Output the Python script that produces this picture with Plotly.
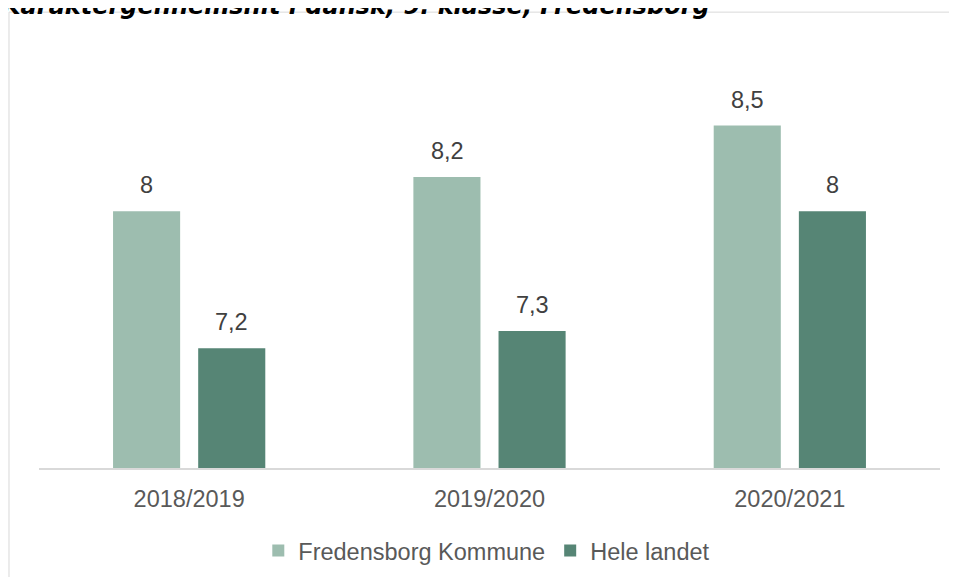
import plotly.graph_objects as go

categories = ["2018/2019", "2019/2020", "2020/2021"]
fredensborg = [8, 8.2, 8.5]
hele_landet = [7.2, 7.3, 8]
series_names = ["Fredensborg Kommune", "Hele landet"]
title_text = "Karaktergennemsnit i dansk, 9. klasse, Fredensborg"

c_light = "#9DBDAF"
c_dark = "#568575"
FONT = "Liberation Sans, Arial"

def fmt(v):
    return (f"{v:g}").replace(".", ",")

fig = go.Figure()
fig.add_trace(go.Bar(x=categories, y=fredensborg, name=series_names[0],
                     marker=dict(color=c_light, line=dict(width=0))))
fig.add_trace(go.Bar(x=categories, y=hele_landet, name=series_names[1],
                     marker=dict(color=c_dark, line=dict(width=0))))

annotations = []
for vals, xs in ((fredensborg, -42.5), (hele_landet, 42.5)):
    for cat, v in zip(categories, vals):
        annotations.append(dict(x=cat, y=v, xref="x", yref="y", text=fmt(v),
                                showarrow=False, yanchor="bottom", xshift=xs, yshift=11,
                                font=dict(family=FONT, size=23.5, color="#404040")))

annotations.append(dict(x=-0.043, y=1.043, xref="paper", yref="paper", text="<b><i>" + title_text + "</i></b>",
                        showarrow=False, xanchor="left", yanchor="bottom",
                        font=dict(family="DejaVu Sans", size=24, color="#000000")))

fig.update_layout(
    width=957, height=577,
    margin=dict(l=31, r=25, t=32, b=115),
    paper_bgcolor="white", plot_bgcolor="white",
    barmode="group", bargap=0.433, bargroupgap=0.212,
    showlegend=True,
    legend=dict(orientation="h", x=0.497, xanchor="center", y=-0.193, yanchor="middle",
                font=dict(family=FONT, size=23.5, color="#595959"),
                traceorder="normal"),
    xaxis=dict(showline=True, linecolor="#D9D9D9", linewidth=1.5, ticks="",
               tickfont=dict(family=FONT, size=23.5, color="#595959"),
               ticklabelstandoff=9, showgrid=False, zeroline=False, automargin=False),
    yaxis=dict(range=[6.5, 9.0], visible=False, showgrid=False, zeroline=False),
    annotations=annotations,
    shapes=[
        dict(type="line", xref="paper", yref="paper", x0=-0.0333, x1=-0.0333, y0=1.0651, y1=-0.4,
             line=dict(color="#D9D9D9", width=1)),
        dict(type="line", xref="paper", yref="paper", x0=-0.0333, x1=1.1, y0=1.0651, y1=1.0651,
             line=dict(color="#D9D9D9", width=1)),
    ],
)

fig.write_html("out.html")
